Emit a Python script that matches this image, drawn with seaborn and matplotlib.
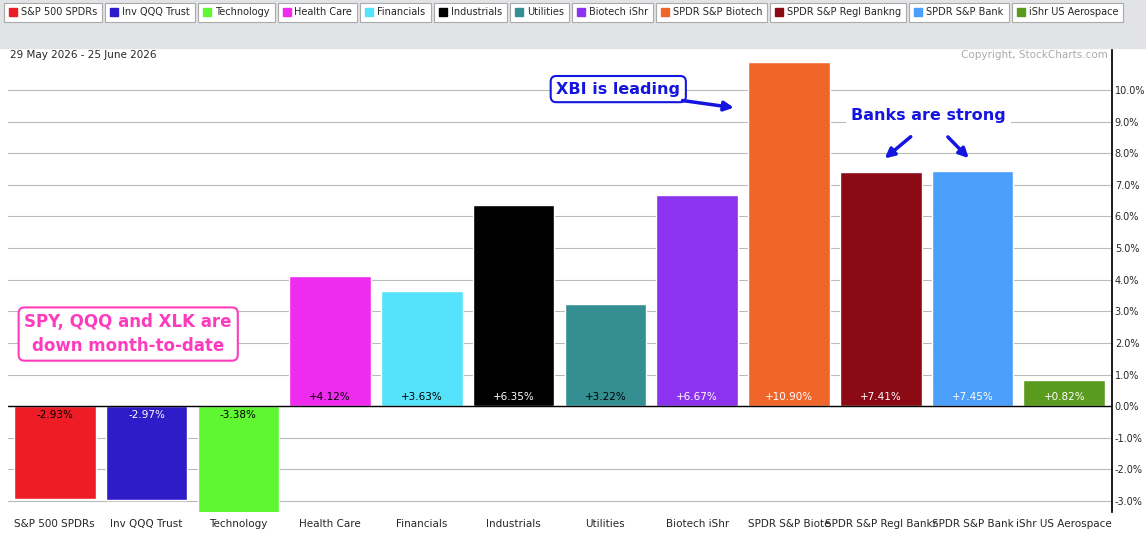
import matplotlib
matplotlib.use("Agg")
import matplotlib.pyplot as plt
import seaborn as sns
import pandas as pd
from matplotlib.patches import Rectangle

names = ["S&P 500 SPDRs", "Inv QQQ Trust", "Technology", "Health Care", "Financials",
         "Industrials", "Utilities", "Biotech iShr", "SPDR S&P Biotech",
         "SPDR S&P Regl Bankng", "SPDR S&P Bank", "iShr US Aerospace"]
xlabels = ["S&P 500 SPDRs", "Inv QQQ Trust", "Technology", "Health Care", "Financials",
           "Industrials", "Utilities", "Biotech iShr", "SPDR S&P Biote",
           "SPDR S&P Regl Bankr", "SPDR S&P Bank", "iShr US Aerospace"]
values = [-2.93, -2.97, -3.38, 4.12, 3.63, 6.35, 3.22, 6.67, 10.90, 7.41, 7.45, 0.82]
colors = ["#ee1c25", "#2e1cc8", "#5ef731", "#f02bf0", "#55e3fb", "#000000",
          "#348f93", "#8b33ee", "#f0652a", "#8b0a14", "#4b9efa", "#5a9a1e"]
label_white = [False, True, False, False, False, True, False, True, True, True, True, True]
ticks = list(range(-3, 11))

sns.set_theme(style="white")
fig = plt.figure(figsize=(11.46, 5.43), dpi=100)
W, H = 1146, 543
ax = fig.add_axes([8 / W, (H - 512) / H, (1112 - 8) / W, (512 - 48) / H])

df = pd.DataFrame({"name": names, "value": values})
sns.barplot(data=df, x="name", y="value", hue="name", palette=colors, dodge=False,
            legend=False, width=0.89, ax=ax, saturation=1)
ax.set_xlim(-0.51, 11.52)
ax.set_ylim(-3.35, 11.33)
ax.set_yticks(ticks)
ax.set_yticklabels([f"{t:.1f}%" for t in ticks], fontsize=7)
for lab in ax.get_yticklabels():
    lab.set_verticalalignment("bottom")
ax.yaxis.tick_right()
ax.tick_params(axis="y", length=0, pad=2, right=True)
ax.set_xticks(range(len(names)))
ax.set_xticklabels(xlabels, fontsize=7.5)
ax.tick_params(axis="x", length=0, pad=5)
ax.set_xlabel("")
ax.set_ylabel("")
ax.grid(axis="y", color="#bbbbbb", lw=0.8)
ax.set_axisbelow(True)
ax.axhline(0, color="black", lw=1)
for s in ["top", "left", "bottom"]:
    ax.spines[s].set_visible(False)
ax.spines["right"].set_color("black")

for i, (v, w) in enumerate(zip(values, label_white)):
    y = 0.28 if v > 0 else -0.28
    ax.text(i, y, f"{v:+.2f}%", ha="center", va="center", fontsize=7.5,
            color="white" if w else "black")

# header band and legend
fig.patches.append(Rectangle((0, (H - 48) / H), 1, 48 / H, transform=fig.transFigure,
                             color="#e2e3e6", zorder=0))
x = 4
for n, c in zip(names, colors):
    t = fig.text((x + 17) / W, 1 - 12 / H, n, fontsize=7, va="center", ha="left")
    fig.canvas.draw()
    bb = t.get_window_extent()
    wbox = bb.width + 22
    fig.patches.append(Rectangle((x / W, 1 - 22 / H), wbox / W, 19 / H, transform=fig.transFigure,
                                 facecolor="white", edgecolor="#aaaaaa", lw=0.8, zorder=1))
    fig.patches.append(Rectangle(((x + 5) / W, 1 - 16 / H), 8 / W, 8 / H, transform=fig.transFigure,
                                 color=c, zorder=2))
    x += wbox + 3

fig.text(10 / W, 1 - 55 / H, "29 May 2026 - 25 June 2026", fontsize=7.5, va="center")
fig.text(1108 / W, 1 - 55 / H, "Copyright, StockCharts.com", fontsize=7.5, va="center",
         ha="right", color="#aaaaaa")

blue = "#1515e0"
ax.text(0.80, 2.28, "SPY, QQQ and XLK are\ndown month-to-date", fontsize=12, fontweight="bold",
        color="#ff3bbd", ha="center", va="center", linespacing=1.4,
        bbox=dict(boxstyle="round,pad=0.35", fc="white", ec="#ff3bbd", lw=1.5))
ax.text(6.14, 10.03, "XBI is leading", fontsize=11.5, fontweight="bold", color=blue,
        ha="center", va="center",
        bbox=dict(boxstyle="round,pad=0.35", fc="white", ec=blue, lw=1.5))
ax.annotate("", xy=(7.43, 9.43), xytext=(6.81, 9.68),
            arrowprops=dict(arrowstyle="-|>", color=blue, lw=2.5, mutation_scale=14))
ax.text(9.52, 9.18, "Banks are strong", fontsize=11.5, fontweight="bold", color=blue,
        ha="center", va="center", bbox=dict(boxstyle="square,pad=0.3", fc="white", ec="none"))
ax.annotate("", xy=(9.02, 7.78), xytext=(9.35, 8.58),
            arrowprops=dict(arrowstyle="-|>", color=blue, lw=2.5, mutation_scale=14))
ax.annotate("", xy=(9.98, 7.78), xytext=(9.71, 8.58),
            arrowprops=dict(arrowstyle="-|>", color=blue, lw=2.5, mutation_scale=14))

fig.savefig("out.png", dpi=100)
